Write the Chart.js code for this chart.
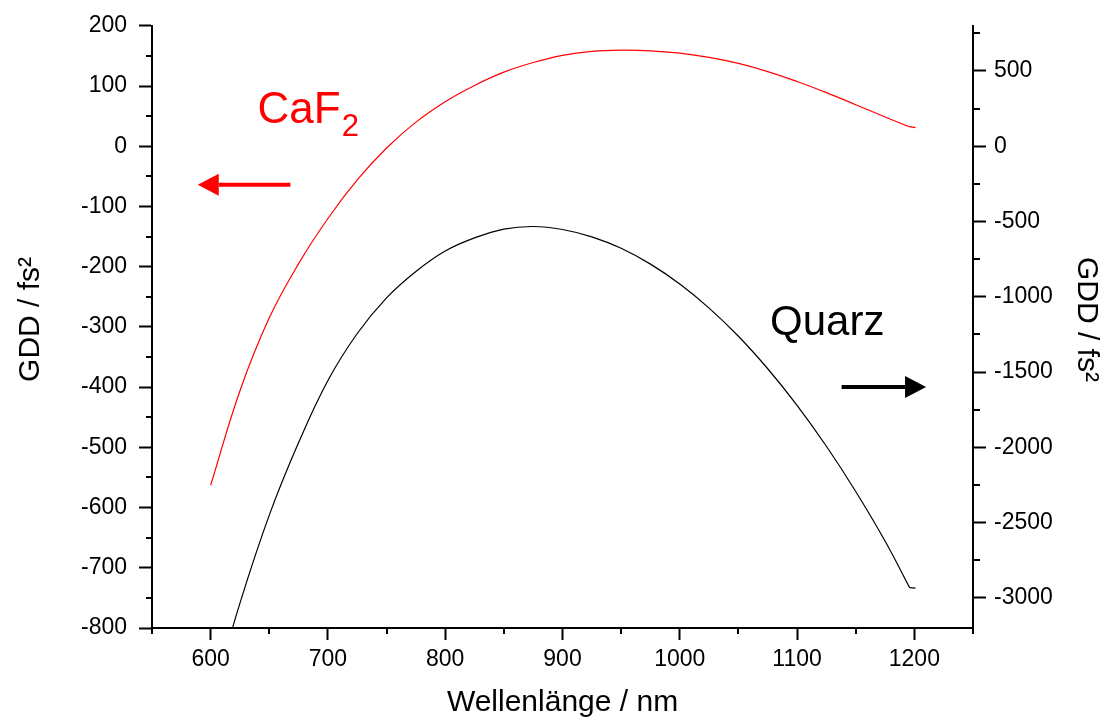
<!DOCTYPE html>
<html lang="de">
<head>
<meta charset="UTF-8">
<script src="https://cdn.jsdelivr.net/npm/chart.js"></script>
<title>GDD</title>
<style>
  body { margin: 0; background: #fff; }
</style>
</head>
<body>
<canvas id="myChart" width="1109" height="723"></canvas>
<script>
// CaF2, left axis
const lambdaCaF2 = [600, 625, 650, 675, 700, 725, 750, 775, 800, 825, 850, 875, 900, 925, 950, 975, 1000, 1025, 1050, 1075, 1100, 1125, 1150, 1175, 1195];
const gddCaF2 = [-563, -406, -285, -195, -120, -56, -3, 40, 74, 101, 123, 139, 151, 157.5, 159.5, 158.5, 154.5, 147.5, 137.5, 124, 107.5, 89, 69, 48.5, 33];
// short flat end of the CaF2 trace
const lambdaCaF2End = [1195, 1201];
const gddCaF2End = [33, 31];

// Quarz, right axis
const lambdaQuarz = [600, 625, 650, 675, 700, 725, 750, 775, 800, 825, 850, 875, 900, 925, 950, 975, 1000, 1025, 1050, 1075, 1100, 1125, 1150, 1175, 1196];
const gddQuarz = [-3710, -3035, -2450, -1968, -1556, -1244, -1007, -832, -696, -609, -550, -533, -553, -602, -678, -783, -915, -1075, -1262, -1478, -1721, -1993, -2293, -2622, -2932];
const lambdaQuarzEnd = [1196, 1201];
const gddQuarzEnd = [-2932, -2935];

const xTicks = [600, 700, 800, 900, 1000, 1100, 1200];
const xMinor = [550, 650, 750, 850, 950, 1050, 1150, 1250];
const leftTicks = [200, 100, 0, -100, -200, -300, -400, -500, -600, -700, -800];
const leftMinor = [150, 50, -50, -150, -250, -350, -450, -550, -650, -750];
const rightTicks = [500, 0, -500, -1000, -1500, -2000, -2500, -3000];
const rightMinor = [750, 250, -250, -750, -1250, -1750, -2250, -2750];

const tickFont = { family: 'Liberation Sans, Arial', size: 23 };
const titleFont = { family: 'Liberation Sans, Arial', size: 30 };

function pts(xs, ys) {
  return xs.map((x, i) => ({ x: x, y: ys[i] }));
}

function setTicks(list) {
  return function (scale) {
    scale.ticks = list.map(v => ({ value: v }));
  };
}

const plain = v => String(v);

function trace(label, xs, ys, axis, color, tension) {
  return {
    label: label,
    data: pts(xs, ys),
    yAxisID: axis,
    borderColor: color,
    borderWidth: 1.2,
    pointRadius: 0,
    tension: tension,
    fill: false
  };
}

// minor ticks, text labels and arrows
const extras = {
  id: 'extras',
  afterDraw(chart) {
    const ctx = chart.ctx;
    const x = chart.scales.x, yl = chart.scales.y, yr = chart.scales.y2;
    const area = chart.chartArea;
    ctx.save();
    ctx.strokeStyle = '#000';
    ctx.lineWidth = 2;
    ctx.beginPath();
    xMinor.forEach(v => {
      const px = Math.round(x.getPixelForValue(v));
      ctx.moveTo(px, area.bottom); ctx.lineTo(px, area.bottom + 6);
    });
    leftMinor.forEach(v => {
      const py = Math.round(yl.getPixelForValue(v));
      ctx.moveTo(area.left, py); ctx.lineTo(area.left - 6, py);
    });
    rightMinor.forEach(v => {
      const py = Math.round(yr.getPixelForValue(v));
      ctx.moveTo(area.right, py); ctx.lineTo(area.right + 7, py);
    });
    ctx.stroke();

    // labels
    ctx.textBaseline = 'alphabetic';
    ctx.textAlign = 'left';
    ctx.fillStyle = '#ff0000';
    ctx.font = '44px "Liberation Sans", Arial';
    let tx = x.getPixelForValue(640), ty = yl.getPixelForValue(38);
    ctx.fillText('CaF', tx, ty);
    const w = ctx.measureText('CaF').width;
    ctx.font = '31px "Liberation Sans", Arial';
    ctx.fillText('2', tx + w + 1, ty + 13);

    ctx.fillStyle = '#000';
    ctx.font = '42px "Liberation Sans", Arial';
    ctx.fillText('Quarz', x.getPixelForValue(1077), yr.getPixelForValue(-1255));

    arrow(ctx, x.getPixelForValue(668), x.getPixelForValue(589), yl.getPixelForValue(-64), '#ff0000');
    arrow(ctx, x.getPixelForValue(1138), x.getPixelForValue(1210), yr.getPixelForValue(-1600), '#000');
    ctx.restore();
  }
};

function arrow(ctx, x0, x1, y, color) {
  const dir = x1 > x0 ? 1 : -1;
  const head = 21;
  ctx.strokeStyle = color;
  ctx.fillStyle = color;
  ctx.lineWidth = 4;
  ctx.beginPath();
  ctx.moveTo(x0, y);
  ctx.lineTo(x1 - dir * head, y);
  ctx.stroke();
  ctx.beginPath();
  ctx.moveTo(x1, y);
  ctx.lineTo(x1 - dir * head, y - 11);
  ctx.lineTo(x1 - dir * head, y + 11);
  ctx.closePath();
  ctx.fill();
}

new Chart(document.getElementById('myChart'), {
  type: 'line',
  data: {
    datasets: [
      trace('CaF2', lambdaCaF2, gddCaF2, 'y', '#ff0000', 0.4),
      trace('CaF2 end', lambdaCaF2End, gddCaF2End, 'y', '#ff0000', 0),
      trace('Quarz', lambdaQuarz, gddQuarz, 'y2', '#000', 0.4),
      trace('Quarz end', lambdaQuarzEnd, gddQuarzEnd, 'y2', '#000', 0)
    ]
  },
  options: {
    responsive: false,
    animation: false,
    events: [],
    layout: { padding: { top: 24, left: 0, right: 0, bottom: 0 } },
    plugins: { legend: { display: false }, tooltip: { enabled: false } },
    scales: {
      x: {
        type: 'linear',
        min: 550, max: 1250,
        afterBuildTicks: setTicks(xTicks),
        afterFit: s => { s.height = 95; },
        border: { display: true, color: '#000', width: 2 },
        grid: { drawOnChartArea: false, drawTicks: true, tickLength: 12, tickWidth: 2, tickColor: '#000' },
        ticks: { color: '#000', font: tickFont, padding: 6, maxRotation: 0, callback: plain },
        title: { display: true, text: 'Wellenlänge / nm', color: '#000', font: titleFont, padding: { top: 0, bottom: 2 } }
      },
      y: {
        position: 'left',
        min: -800, max: 200,
        afterBuildTicks: setTicks(leftTicks),
        afterFit: s => { s.width = 152; },
        border: { display: true, color: '#000', width: 2 },
        grid: { drawOnChartArea: false, drawTicks: true, tickLength: 13, tickWidth: 2, tickColor: '#000' },
        ticks: { color: '#000', font: tickFont, padding: 12, callback: plain },
        // leading en space nudges the centred title up a little
        title: { display: true, text: '\u2002GDD / fs²', color: '#000', font: titleFont, padding: { top: 13, bottom: 0 } }
      },
      y2: {
        position: 'right',
        min: -3200, max: 800,
        afterBuildTicks: setTicks(rightTicks),
        afterFit: s => { s.width = 136; },
        border: { display: true, color: '#000', width: 2 },
        grid: { drawOnChartArea: false, drawTicks: true, tickLength: 13, tickWidth: 2, tickColor: '#000' },
        ticks: { color: '#000', font: tickFont, padding: 8, callback: plain },
        title: { display: true, text: 'GDD / fs²\u2002', color: '#000', font: titleFont, padding: { top: 5, bottom: 0 } }
      }
    }
  },
  plugins: [extras]
});
</script>
</body>
</html>
